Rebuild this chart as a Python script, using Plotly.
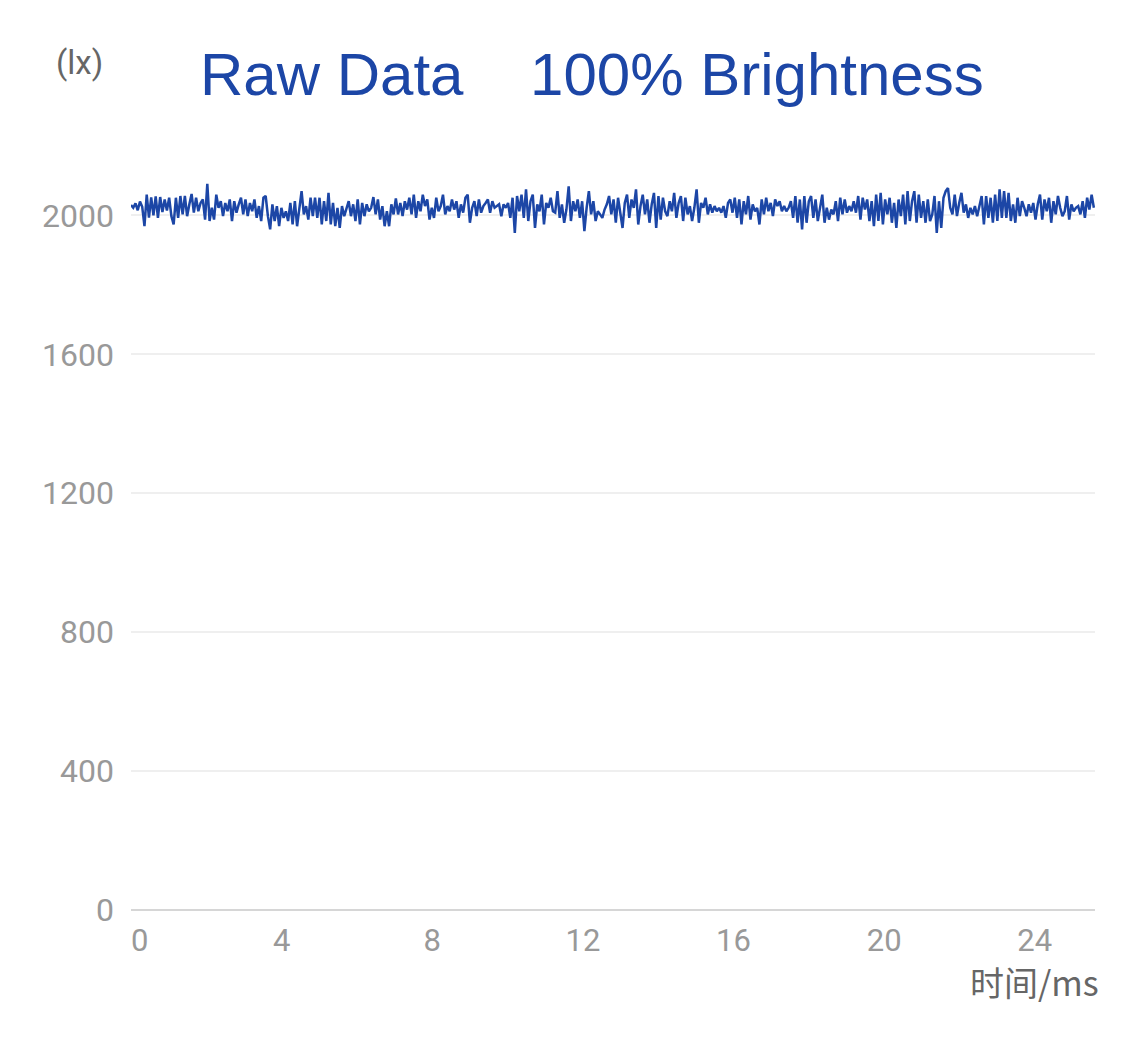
import plotly.graph_objects as go

seg1 = [2030, 2022, 2035, 2015, 2040, 2025, 1969, 2060, 1994, 2052, 2000, 2055, 1993, 2053, 2010, 2046,
        2014, 2051, 1998, 1974, 2051, 1993, 2056, 2003, 2056, 1998, 2032, 2062, 2008, 2051, 2012, 2036,
        2046, 1988, 2091, 1984, 2022, 1988, 2060, 2022, 2041, 1998, 2036, 2012, 2046, 1984, 2041, 2008,
        2032, 2051, 2003, 2046, 1998, 2036, 2012, 2046, 1993, 2027, 1984, 2051, 2056, 1998, 1960, 2032,
        1984, 2027, 1969, 2022, 1993, 2012]
seg2 = [1984, 2036, 1974, 2041, 1969, 2022, 2070, 2003, 2027, 1988, 2051, 1998, 2051, 1993, 2051, 1974,
        2041, 1984, 2065, 1974, 2036, 1969, 2022, 1964, 2027, 1998, 2017, 2041, 1998, 2032, 1984, 2046,
        1974, 2036, 1998, 2032, 2012, 2022, 2053, 2003, 2046, 1988, 2027, 1969, 2012, 1969, 2032, 2003,
        2049, 2003, 2036, 1998, 2041, 2017, 2051, 2003, 2060, 1993, 2041, 2012, 2060, 2027, 2046, 1988,
        2022, 1993, 2051, 2012, 2027, 2060, 2003, 2027, 2012]
seg3 = [2046, 2017, 2041, 1993, 2032, 2008, 2051, 2060, 1979, 2022, 2041, 1998, 2046, 2008, 2027, 2036,
        2046, 2008, 2041, 2022, 2027, 2032, 1998, 2032, 2022, 2036, 1993, 2051, 1950, 2056, 2012, 2060,
        1993, 2075, 1984, 2041, 2060, 1964, 2032, 2012, 2060, 1974, 2036, 2022, 2051, 2012, 2008, 2070,
        1993, 2032, 1979, 2017, 2084, 1984, 2041, 2012, 2046, 1993, 2041, 1955, 2022, 2070, 2003, 2041,
        1984, 2012, 2003, 1993, 2017, 2032]
seg4 = [2056, 2003, 2046, 1979, 2051, 2012, 1964, 2036, 2060, 1993, 2046, 2022, 2075, 1974, 2027, 2060,
        2003, 2046, 1979, 2032, 2065, 1964, 2056, 1988, 2051, 2012, 1998, 2041, 2012, 2065, 1993, 2036,
        2056, 1984, 2051, 2003, 2027, 1984, 2022, 2075, 1979, 2036, 2022, 2051, 2003, 2032, 2008, 2027,
        2012, 2022, 2008, 2027, 1993, 2036, 2046, 2008, 2051, 1993, 2046, 1974, 2041, 2003, 2056, 1988,
        2032, 2012, 2022, 1974, 2046, 2003, 2051]
seg5 = [2012, 2036, 1998, 2046, 2027, 2041, 2012, 2027, 2012, 2022, 2041, 1993, 2056, 1979, 2046, 1960,
        2056, 1979, 2041, 2056, 1993, 2046, 1984, 2027, 2060, 1979, 2022, 1988, 2017, 2003, 2041, 1984,
        2051, 2003, 2046, 2008, 2027, 2012, 2041, 2008, 2056, 1988, 2051, 2017, 2046, 1984, 2041, 1969,
        2060, 1984, 2065, 1974, 2046, 2003, 2051, 1979, 2036, 1964, 2046, 1998, 2060, 1974, 2070, 1984,
        2041, 2070, 1979, 2060, 1993, 2041, 1979]
seg6 = [2046, 1984, 2003, 2056, 1950, 2041, 1964, 2051, 2070, 2079, 2022, 2003, 2060, 1998, 2036, 2065,
        2008, 2032, 1993, 2022, 2003, 2027, 1998, 2032, 2056, 1974, 2056, 1993, 2051, 1979, 2060, 1984,
        2075, 1993, 2070, 1993, 2065, 1984, 2032, 1979, 2051, 1998, 2041, 2022, 1998, 2032, 2008, 2036,
        1988, 2032, 2060, 1988, 2046, 2012, 2051, 1979, 2041, 2003, 2056, 2022, 1998, 2012, 2056, 1988,
        2032, 2012, 2022, 2027, 2003, 2041, 1993, 2051, 2017, 2060, 2022]

lux = seg1 + seg2 + seg3 + seg4 + seg5 + seg6
t_end = 25.57
n = len(lux)
time_ms = [i * t_end / (n - 1) for i in range(n)]

x_ticks = [0, 4, 8, 12, 16, 20, 24]
y_ticks = [0, 400, 800, 1200, 1600, 2000]

BLUE = "#1c46a6"

fig = go.Figure()
fig.add_trace(go.Scatter(x=time_ms, y=lux, mode="lines",
                         line=dict(color=BLUE, width=2.5), hoverinfo="skip", showlegend=False))

H_PLOT = 1040 - 130 - 146

def py(p):
    return (910 - p) / H_PLOT

fig.update_layout(
    width=1125, height=1040,
    margin=dict(l=131, r=30, t=146, b=130),
    paper_bgcolor="white", plot_bgcolor="white",
    showlegend=False,
    xaxis=dict(range=[0, 25.6], tickvals=x_ticks, ticktext=["\u20070"] + [str(v) for v in x_ticks[1:]],
               showgrid=False, zeroline=False, showline=False, ticks="",
               ticklabelstandoff=9,
               tickfont=dict(family="Roboto", size=31, color="#999999")),
    yaxis=dict(range=[0, 2200], tickvals=y_ticks, showgrid=True, gridcolor="#efefef", gridwidth=2,
               zeroline=True, zerolinecolor="#d6d6d6", zerolinewidth=2, showline=False, ticks="",
               ticklabelstandoff=16,
               tickfont=dict(family="Roboto", size=32, color="#999999")),
    annotations=[
        dict(text="Raw Data\u00a0\u00a0\u00a0\u00a0100% Brightness", xref="paper", yref="paper",
             x=(591.5 - 131) / 964, y=py(74), xanchor="center", yanchor="middle", showarrow=False,
             font=dict(family="Liberation Sans, Arial", size=60, color=BLUE)),
        dict(text="(lx)", xref="paper", yref="paper", x=(79 - 131) / 964, y=py(63),
             xanchor="center", yanchor="middle", showarrow=False,
             font=dict(family="Roboto", size=33, color="#666666")),
        dict(text="时间/ms", xref="paper", yref="paper", x=(1101 - 131) / 964, y=py(981),
             xanchor="right", yanchor="middle", showarrow=False,
             font=dict(family="Noto Sans CJK SC", size=34, color="#666666")),
    ],
)

fig.write_html("out.html")
